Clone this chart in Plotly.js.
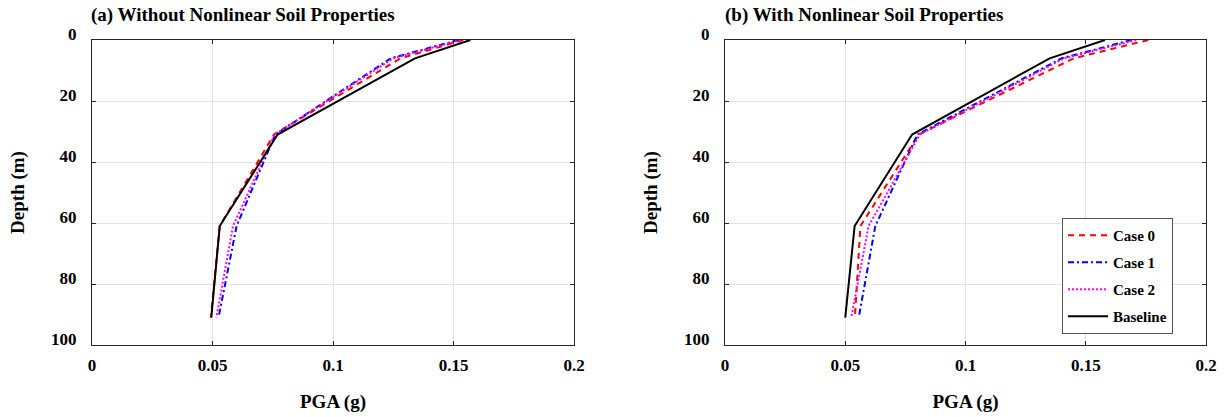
<!DOCTYPE html>
<html>
<head>
<meta charset="utf-8">
<script src="https://cdn.plot.ly/plotly-3.0.1.min.js"></script>
<style>html,body{margin:0;padding:0;background:#fff;}#chart{width:1224px;height:417px;}</style>
</head>
<body>
<div id="chart"></div>
<script>
// Depth points (m)
const depth = [0, 6, 31, 61, 91];

// (a) Without nonlinear soil properties — PGA (g)
const a_case0    = [0.154, 0.128, 0.0755, 0.053, 0.0493];
const a_case1    = [0.152, 0.124, 0.076, 0.060, 0.0525];
const a_case2    = [0.153, 0.125, 0.0758, 0.0585, 0.0516];
const a_baseline = [0.157, 0.134, 0.077, 0.053, 0.0495];

// (b) With nonlinear soil properties — PGA (g)
const b_case0    = [0.176, 0.145, 0.0805, 0.0563, 0.054];
const b_case1    = [0.169, 0.140, 0.080, 0.0625, 0.0556];
const b_case2    = [0.171, 0.141, 0.081, 0.0597, 0.0525];
const b_baseline = [0.158, 0.135, 0.0778, 0.0539, 0.050];

const seriesNames = ['Case 0', 'Case 1', 'Case 2', 'Baseline'];
const xTicks = [0, 0.05, 0.1, 0.15, 0.2];
const xTickText = ['0', '0.05', '0.1', '0.15', '0.2'];
const yTicks = [0, 20, 40, 60, 80, 100];

const styles = [
  {color: '#ff0000', dash: '6px,5px', width: 2},
  {color: '#0000ff', dash: '6px,3px,2px,3px', width: 2},
  {color: '#ff00ff', dash: '2px,2px', width: 2},
  {color: '#000000', dash: 'solid', width: 2}
];

const FONT = 'Liberation Serif';
const setA = [a_case0, a_case1, a_case2, a_baseline];
const setB = [b_case0, b_case1, b_case2, b_baseline];

const traces = [];
setA.forEach((xs, i) => traces.push({
  x: xs, y: depth, mode: 'lines', name: seriesNames[i], xaxis: 'x', yaxis: 'y',
  line: styles[i], showlegend: false
}));
setB.forEach((xs, i) => traces.push({
  x: xs, y: depth, mode: 'lines', name: seriesNames[i], xaxis: 'x2', yaxis: 'y2',
  line: styles[i], showlegend: true, legendgroup: 'g' + i
}));

function xax(domain, anchor) {
  return {
    domain: domain, anchor: anchor, range: [0, 0.2], tickvals: xTicks, ticktext: xTickText,
    showgrid: true, gridcolor: '#e3e3e3', gridwidth: 1, zeroline: false,
    showline: true, linecolor: '#262626', linewidth: 1, mirror: 'ticks',
    ticks: 'inside', ticklen: 4, tickcolor: '#262626',
    ticklabelstandoff: 5,
    tickfont: {family: FONT, size: 17, color: '#000', weight: 'bold'},
    title: {text: 'PGA (g)', font: {family: FONT, size: 19, color: '#000', weight: 'bold'}, standoff: 20}
  };
}
function yax(domain, anchor) {
  return {
    domain: domain, anchor: anchor, range: [100, 0], tickvals: yTicks,
    showgrid: true, gridcolor: '#e3e3e3', gridwidth: 1, zeroline: false,
    showline: true, linecolor: '#262626', linewidth: 1, mirror: 'ticks',
    ticks: 'inside', ticklen: 4, tickcolor: '#262626',
    ticklabelstandoff: 11, ticklabelshift: 6,
    tickfont: {family: FONT, size: 17, color: '#000', weight: 'bold'},
    title: {text: 'Depth (m)', font: {family: FONT, size: 19, color: '#000', weight: 'bold'}, standoff: 21}
  };
}

const yDom = [1 - 345/417, 1 - 40/417];
const layout = {
  width: 1224, height: 417,
  margin: {l: 0, r: 0, t: 0, b: 0},
  paper_bgcolor: '#fff', plot_bgcolor: '#fff',
  font: {family: FONT},
  xaxis: xax([92/1224, 574/1224], 'y'),
  yaxis: yax(yDom, 'x'),
  xaxis2: xax([725/1224, 1206/1224], 'y2'),
  yaxis2: yax(yDom, 'x2'),
  showlegend: true,
  legend: {
    x: 1062/1224, y: 1 - 218/417, xanchor: 'left', yanchor: 'top',
    bgcolor: '#fff', bordercolor: '#555', borderwidth: 1,
    font: {family: FONT, size: 15, color: '#000', weight: 'bold'},
    tracegroupgap: 4.5, itemwidth: 40
  },
  annotations: [
    {text: '(a) Without Nonlinear Soil Properties', xref: 'paper', yref: 'paper',
     x: 89/1224, y: 1 - 15/417, xanchor: 'left', yanchor: 'middle', showarrow: false,
     font: {family: FONT, size: 19, color: '#000', weight: 'bold'}},
    {text: '(b) With Nonlinear Soil Properties', xref: 'paper', yref: 'paper',
     x: 723/1224, y: 1 - 15/417, xanchor: 'left', yanchor: 'middle', showarrow: false,
     font: {family: FONT, size: 19, color: '#000', weight: 'bold'}}
  ]
};

Plotly.newPlot('chart', traces, layout, {displayModeBar: false, staticPlot: true});
</script>
</body>
</html>
